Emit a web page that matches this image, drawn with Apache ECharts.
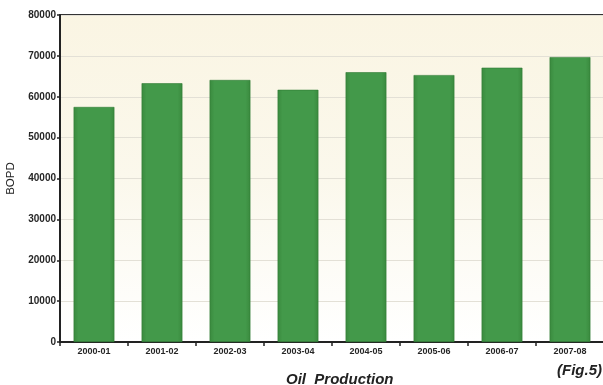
<!DOCTYPE html>
<html>
<head>
<meta charset="utf-8">
<script src="https://cdn.jsdelivr.net/npm/echarts@6/dist/echarts.min.js"></script>
<style>
  html, body { margin: 0; padding: 0; background: #ffffff; }
  #chart { width: 603px; height: 385px; }
</style>
</head>
<body>
<div id="chart"></div>
<script>
// Annual oil production, barrels of oil per day
const years = ['2000-01', '2001-02', '2002-03', '2003-04', '2004-05', '2005-06', '2006-07', '2007-08'];
const bopd = [57500, 63300, 64100, 61700, 66000, 65300, 67100, 69700];
const yTicks = { min: 0, max: 80000, interval: 10000 };

const chart = echarts.init(document.getElementById('chart'));
const font = 'Arial, "Liberation Sans", sans-serif';

chart.setOption({
  animation: false,
  grid: {
    left: 60, top: 15, right: -1, bottom: 43,
    containLabel: false,
    outerBoundsMode: 'none',
    show: true,
    borderWidth: 0,
    backgroundColor: {
      type: 'linear', x: 0, y: 0, x2: 0, y2: 1,
      colorStops: [
        { offset: 0, color: '#faf5e3' },
        { offset: 0.5, color: '#fbf8ec' },
        { offset: 1, color: '#ffffff' }
      ]
    }
  },
  xAxis: {
    type: 'category',
    data: years,
    axisLine: { lineStyle: { color: '#222', width: 2 } },
    axisTick: { show: true, length: 4, lineStyle: { color: '#222', width: 1.5 } },
    axisLabel: { color: '#262626', fontFamily: font, fontWeight: 'bold', fontSize: 9, margin: 5 }
  },
  yAxis: {
    type: 'value',
    min: yTicks.min, max: yTicks.max, interval: yTicks.interval,
    name: 'BOPD',
    nameLocation: 'middle',
    nameRotate: 90,
    nameGap: 41,
    nameTextStyle: { color: '#222', fontFamily: font, fontSize: 11.5 },
    axisLine: { show: true, lineStyle: { color: '#222', width: 2 } },
    axisTick: { show: true, length: 3, lineStyle: { color: '#222', width: 1.5 } },
    axisLabel: {
      color: '#262626', fontFamily: font, fontWeight: 'bold', fontSize: 10, margin: 4,
      formatter: v => String(v)
    },
    splitLine: { lineStyle: { color: '#e3e0d6', width: 1 } }
  },
  graphic: [
    // top frame line of the plot area
    { type: 'line', shape: { x1: 59, y1: 15, x2: 603, y2: 15 },
      style: { stroke: '#333', lineWidth: 2 } },
    { type: 'text', left: 286, top: 372,
      style: { text: 'Oil  Production', fill: '#222', font: 'italic bold 15px ' + font } },
    { type: 'text', left: 557, top: 363,
      style: { text: '(Fig.5)', fill: '#222', font: 'italic bold 15px ' + font } }
  ],
  series: [{
    type: 'bar',
    data: bopd,
    barWidth: '60%',
    itemStyle: {
      color: {
        type: 'linear', x: 0, y: 0, x2: 1, y2: 0,
        colorStops: [
          { offset: 0, color: '#3a8a3e' },
          { offset: 0.12, color: '#43994a' },
          { offset: 0.88, color: '#43994a' },
          { offset: 1, color: '#3a8a3e' }
        ]
      },
      borderColor: '#2f7a34',
      borderWidth: 0.6
    }
  }]
});
</script>
</body>
</html>
